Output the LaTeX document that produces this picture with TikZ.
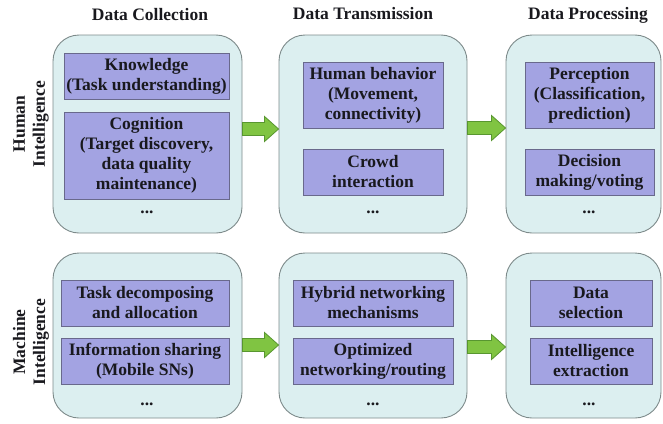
\documentclass[tikz,border=0pt]{standalone}
\usepackage{fontspec}
\setmainfont{Liberation Serif}
\usetikzlibrary{calc}
\definecolor{panelfill}{RGB}{220,239,240}
\definecolor{panelline}{RGB}{125,138,138}
\definecolor{itemfill}{RGB}{163,163,226}
\definecolor{itemline}{RGB}{105,105,140}
\definecolor{flowfill}{RGB}{128,196,66}
\definecolor{flowline}{RGB}{88,150,48}
\definecolor{textcol}{RGB}{25,25,30}
\newcommand\flowarrow[3]{%
  \draw[flow] ($(#1.east)+(0,#3-6.5)$) -- ($(#2.west)+(-14,#3-6.5)$)
    -- ($(#2.west)+(-14,#3-12.5)$) -- ($(#2.west)+(0,#3)$)
    -- ($(#2.west)+(-14,#3+12.5)$) -- ($(#2.west)+(-14,#3+6.5)$)
    -- ($(#1.east)+(0,#3+6.5)$) -- cycle;}
\begin{document}
\begin{tikzpicture}[x=1pt,y=-1pt,
  font=\fontsize{17.5}{20}\selectfont\bfseries,
  every node/.style={text=textcol},
  panel/.style={draw=panelline, fill=panelfill, line width=0.9pt, rounded corners=26pt, inner sep=0pt},
  item/.style={draw=itemline, fill=itemfill, line width=0.8pt, align=center, inner sep=0pt},
  dots/.style={inner sep=0pt},
  header/.style={inner sep=0pt},
  side/.style={rotate=90, align=center, inner sep=0pt},
  flow/.style={draw=flowline, fill=flowfill, line width=0.8pt, line join=miter}]
\useasboundingbox (0,0) rectangle (663,423);

% headers
\node[header] (hdc) at (150,15) {Data Collection};
\node[header] (hdt) at (363,14) {Data Transmission};
\node[header] (hdp) at (588,15) {Data Processing};

% side labels
\node[side] (shi) at (31,124) {Human\\Intelligence};
\node[side] (smi) at (31,342) {Machine\\Intelligence};

% panels
\node[panel, minimum width=189pt, minimum height=198pt] (c1t) at (147.5,134) {};
\node[panel, minimum width=188pt, minimum height=198pt] (c2t) at (373,134) {};
\node[panel, minimum width=155pt, minimum height=198pt] (c3t) at (583.5,134) {};
\node[panel, minimum width=189pt, minimum height=165pt] (c1b) at (147.5,335.5) {};
\node[panel, minimum width=188pt, minimum height=165pt] (c2b) at (373,335.5) {};
\node[panel, minimum width=155pt, minimum height=165pt] (c3b) at (583.5,335.5) {};

% top row items
\node[item, minimum width=165pt, minimum height=46pt] (k1) at (146.5,76) {Knowledge\\(Task understanding)};
\node[item, minimum width=165pt, minimum height=87pt] (k2) at (146.5,155.5) {Cognition\\(Target discovery,\\data quality\\maintenance)};
\node[dots] (k3) at (147,212) {...};
\node[item, minimum width=140pt, minimum height=66pt] (h1) at (373,95) {Human behavior\\(Movement,\\connectivity)};
\node[item, minimum width=140pt, minimum height=46pt] (h2) at (373,172) {Crowd\\interaction};
\node[dots] (h3) at (373,212) {...};
\node[item, minimum width=129pt, minimum height=66pt] (p1) at (589.5,95) {Perception\\(Classification,\\prediction)};
\node[item, minimum width=129pt, minimum height=46pt] (p2) at (589.5,172) {Decision\\making/voting};
\node[dots] (p3) at (589,212) {...};

% bottom row items
\node[item, minimum width=168pt, minimum height=46pt] (t1) at (145,303) {Task decomposing\\and allocation};
\node[item, minimum width=168pt, minimum height=46pt] (t2) at (145,361) {Information sharing\\(Mobile SNs)};
\node[dots] (t3) at (147,404) {...};
\node[item, minimum width=160pt, minimum height=46pt] (n1) at (373,303) {Hybrid networking\\mechanisms};
\node[item, minimum width=160pt, minimum height=46pt] (n2) at (373,361) {Optimized\\networking/routing};
\node[dots] (n3) at (373,404) {...};
\node[item, minimum width=122pt, minimum height=46pt] (d1) at (591,303) {Data\\selection};
\node[item, minimum width=122pt, minimum height=46pt] (d2) at (591,361) {Intelligence\\extraction};
\node[dots] (d3) at (589,404) {...};

% arrows
\flowarrow{c1t}{c2t}{-5}
\flowarrow{c2t}{c3t}{-6}
\flowarrow{c1b}{c2b}{9.5}
\flowarrow{c2b}{c3b}{11.5}
\end{tikzpicture}
\end{document}
